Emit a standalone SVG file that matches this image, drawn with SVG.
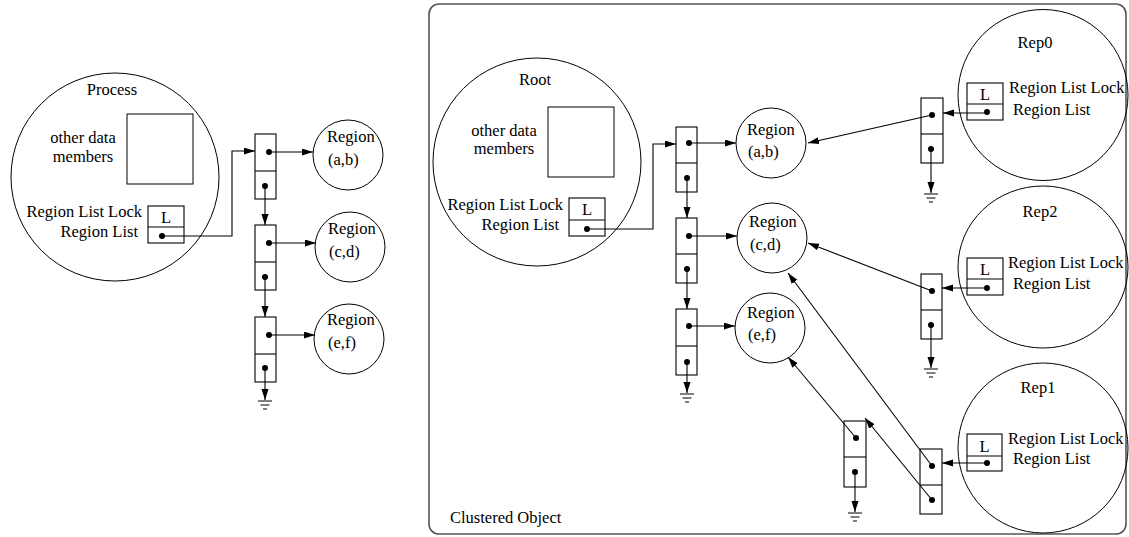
<svg xmlns="http://www.w3.org/2000/svg" width="1129" height="537" viewBox="0 0 1129 537">
<style>
text{font-family:"Liberation Serif","Times New Roman",serif;font-size:16.5px;fill:#000}
.c{text-anchor:middle}
.e{text-anchor:end}
.sh{fill:none;stroke:#000;stroke-width:1}
.bx{fill:#fff;stroke:#000;stroke-width:1.1}
.ln{fill:none;stroke:#000;stroke-width:1.1}
.ar{fill:none;stroke:#000;stroke-width:1.1;marker-end:url(#ah)}
.dt{fill:#000}
.gd{stroke:#000;stroke-width:1}
</style>
<defs>
<marker id="ah" markerUnits="userSpaceOnUse" markerWidth="12" markerHeight="8" refX="11" refY="3.5" orient="auto">
<path d="M0,0 L11,3.5 L0,7 z" fill="#000"/>
</marker>
</defs>
<rect x="0" y="0" width="1129" height="537" fill="#fff"/>

<g id="cluster">
<rect x="429" y="4" width="697" height="530" rx="10" fill="none" stroke="#555" stroke-width="1.6"/>
<text x="450" y="523">Clustered Object</text>
</g>

<g id="process">
<circle cx="115" cy="177" r="104" class="sh"/>
<text x="112" y="95" class="c">Process</text>
<rect x="127" y="114" width="66" height="70" class="sh"/>
<text x="83" y="143" class="c">other data</text>
<text x="83" y="162" class="c">members</text>
<text x="142" y="217" class="e">Region List Lock</text>
<text x="138" y="237" class="e">Region List</text>
<rect x="148" y="206" width="36" height="37" class="bx"/>
<line x1="148" y1="227" x2="184" y2="227" class="ln"/>
<text x="166" y="223" class="c">L</text>
</g>

<g id="root">
<circle cx="537" cy="162" r="104" class="sh"/>
<text x="535" y="85" class="c">Root</text>
<rect x="548" y="107" width="66" height="70" class="sh"/>
<text x="504" y="136" class="c">other data</text>
<text x="504" y="154" class="c">members</text>
<text x="563" y="210" class="e">Region List Lock</text>
<text x="559" y="230" class="e">Region List</text>
<rect x="569" y="198" width="36" height="38" class="bx"/>
<line x1="569" y1="220" x2="605" y2="220" class="ln"/>
<text x="587" y="215" class="c">L</text>
</g>

<g id="rep0">
<ellipse cx="1043" cy="95" rx="85" ry="85.5" class="sh"/>
<text x="1035" y="48" class="c">Rep0</text>
<rect x="967" y="83" width="36" height="37" class="bx"/>
<line x1="967" y1="104" x2="1003" y2="104" class="ln"/>
<text x="985" y="100" class="c">L</text>
<text x="1009" y="93">Region List Lock</text>
<text x="1013" y="115">Region List</text>
</g>

<g id="rep2">
<ellipse cx="1043" cy="267" rx="85" ry="81" class="sh"/>
<text x="1040" y="217" class="c">Rep2</text>
<rect x="967" y="258" width="36" height="37" class="bx"/>
<line x1="967" y1="279" x2="1003" y2="279" class="ln"/>
<text x="985" y="275" class="c">L</text>
<text x="1008" y="268">Region List Lock</text>
<text x="1013" y="289">Region List</text>
</g>

<g id="rep1">
<ellipse cx="1043" cy="448" rx="85" ry="85" class="sh"/>
<text x="1038" y="393" class="c">Rep1</text>
<rect x="967" y="434" width="35" height="37" class="bx"/>
<line x1="967" y1="456" x2="1002" y2="456" class="ln"/>
<text x="984.5" y="452" class="c">L</text>
<text x="1008" y="444">Region List Lock</text>
<text x="1013" y="464">Region List</text>
</g>

<!-- left regions -->
<g id="regionL1"><circle cx="348" cy="155" r="35" class="sh"/><text x="327" y="142">Region</text><text x="328" y="165">(a,b)</text></g>
<g id="regionL2"><circle cx="350" cy="247" r="35" class="sh"/><text x="328" y="234">Region</text><text x="329" y="257">(c,d)</text></g>
<g id="regionL3"><circle cx="349" cy="339" r="35" class="sh"/><text x="327" y="325">Region</text><text x="328" y="348">(e,f)</text></g>

<!-- right regions -->
<g id="regionR1"><circle cx="771" cy="143" r="35" class="sh"/><text x="747" y="135">Region</text><text x="748" y="157">(a,b)</text></g>
<g id="regionR2"><circle cx="772" cy="238" r="35" class="sh"/><text x="749" y="227">Region</text><text x="750" y="250">(c,d)</text></g>
<g id="regionR3"><circle cx="770" cy="328" r="35" class="sh"/><text x="747" y="318">Region</text><text x="748" y="340">(e,f)</text></g>

<!-- list nodes left -->
<g id="nodeL1"><rect x="255" y="134" width="21" height="65" class="bx"/><line x1="255" y1="171" x2="276" y2="171" class="ln"/></g>
<g id="nodeL2"><rect x="255" y="225" width="21" height="65" class="bx"/><line x1="255" y1="262" x2="276" y2="262" class="ln"/></g>
<g id="nodeL3"><rect x="255" y="317" width="21" height="65" class="bx"/><line x1="255" y1="354" x2="276" y2="354" class="ln"/></g>

<!-- list nodes root -->
<g id="nodeR1"><rect x="676" y="127" width="21" height="65" class="bx"/><line x1="676" y1="163" x2="697" y2="163" class="ln"/></g>
<g id="nodeR2"><rect x="676" y="218" width="21" height="65" class="bx"/><line x1="676" y1="254" x2="697" y2="254" class="ln"/></g>
<g id="nodeR3"><rect x="676" y="309" width="21" height="66" class="bx"/><line x1="676" y1="346" x2="697" y2="346" class="ln"/></g>

<!-- rep nodes -->
<g id="nodeRep0"><rect x="921" y="98" width="22" height="65" class="bx"/><line x1="921" y1="134" x2="943" y2="134" class="ln"/></g>
<g id="nodeRep2"><rect x="921" y="274" width="21" height="65" class="bx"/><line x1="921" y1="310" x2="942" y2="310" class="ln"/></g>
<g id="nodeRep1"><rect x="920" y="449" width="22" height="65" class="bx"/><line x1="920" y1="485" x2="942" y2="485" class="ln"/></g>
<g id="nodeX"><rect x="844" y="421" width="22" height="66" class="bx"/><line x1="844" y1="457" x2="866" y2="457" class="ln"/></g>

<g id="connectors">
<!-- process -->
<polyline points="162,236 232,236 232,151 255,151" class="ar"/>
<line x1="269" y1="152" x2="313" y2="152" class="ar"/>
<line x1="269" y1="243" x2="316" y2="243" class="ar"/>
<line x1="269" y1="335" x2="315" y2="335" class="ar"/>
<line x1="265" y1="186" x2="265" y2="225" class="ar"/>
<line x1="265" y1="277" x2="265" y2="317" class="ar"/>
<line x1="265" y1="368" x2="265" y2="400" class="ar"/>
<!-- root -->
<polyline points="587,229 653,229 653,144 676,144" class="ar"/>
<line x1="689" y1="143" x2="736" y2="143" class="ar"/>
<line x1="689" y1="236" x2="737" y2="236" class="ar"/>
<line x1="689" y1="326" x2="735" y2="326" class="ar"/>
<line x1="687" y1="178" x2="687" y2="218" class="ar"/>
<line x1="687" y1="269" x2="687" y2="309" class="ar"/>
<line x1="687" y1="362" x2="687" y2="393" class="ar"/>
<!-- reps -->
<line x1="987" y1="113" x2="943" y2="113" class="ar"/>
<line x1="987" y1="288" x2="942" y2="288" class="ar"/>
<line x1="987" y1="463" x2="942" y2="463" class="ar"/>
<line x1="931" y1="149" x2="931" y2="193" class="ar"/>
<line x1="931" y1="325" x2="931" y2="368" class="ar"/>
<line x1="855" y1="472" x2="855" y2="512" class="ar"/>
<line x1="932" y1="115" x2="808" y2="143" class="ar"/>
<line x1="932" y1="291" x2="808" y2="243" class="ar"/>
<line x1="932" y1="466" x2="788" y2="273" class="ar"/>
<line x1="856" y1="438" x2="788" y2="357" class="ar"/>
<line x1="932" y1="500" x2="865" y2="418" class="ar"/>
<!-- grounds -->
<g class="gd">
<line x1="258" y1="401" x2="272" y2="401"/><line x1="260.5" y1="405" x2="269.5" y2="405"/><line x1="263" y1="409" x2="267" y2="409"/>
<line x1="680" y1="394" x2="694" y2="394"/><line x1="682.5" y1="398" x2="691.5" y2="398"/><line x1="685" y1="402" x2="689" y2="402"/>
<line x1="924" y1="194" x2="938" y2="194"/><line x1="926.5" y1="198" x2="935.5" y2="198"/><line x1="929" y1="202" x2="933" y2="202"/>
<line x1="924" y1="369" x2="938" y2="369"/><line x1="926.5" y1="373" x2="935.5" y2="373"/><line x1="929" y1="377" x2="933" y2="377"/>
<line x1="848" y1="513" x2="862" y2="513"/><line x1="850.5" y1="517" x2="859.5" y2="517"/><line x1="853" y1="521" x2="857" y2="521"/>
</g>
<!-- dots -->
<g class="dt">
<circle cx="162" cy="236" r="3"/><circle cx="587" cy="229" r="3"/>
<circle cx="269" cy="152" r="3"/><circle cx="265" cy="186" r="3"/>
<circle cx="269" cy="243" r="3"/><circle cx="265" cy="277" r="3"/>
<circle cx="269" cy="335" r="3"/><circle cx="265" cy="368" r="3"/>
<circle cx="689" cy="143" r="3"/><circle cx="687" cy="178" r="3"/>
<circle cx="689" cy="236" r="3"/><circle cx="687" cy="269" r="3"/>
<circle cx="689" cy="326" r="3"/><circle cx="687" cy="362" r="3"/>
<circle cx="987" cy="112" r="3"/><circle cx="987" cy="288" r="3"/><circle cx="987" cy="463" r="3"/>
<circle cx="932" cy="115" r="3"/><circle cx="931" cy="149" r="3"/>
<circle cx="932" cy="291" r="3"/><circle cx="931" cy="325" r="3"/>
<circle cx="932" cy="466" r="3"/><circle cx="932" cy="500" r="3"/>
<circle cx="856" cy="438" r="3"/><circle cx="855" cy="472" r="3"/>
</g>
</g>
</svg>
